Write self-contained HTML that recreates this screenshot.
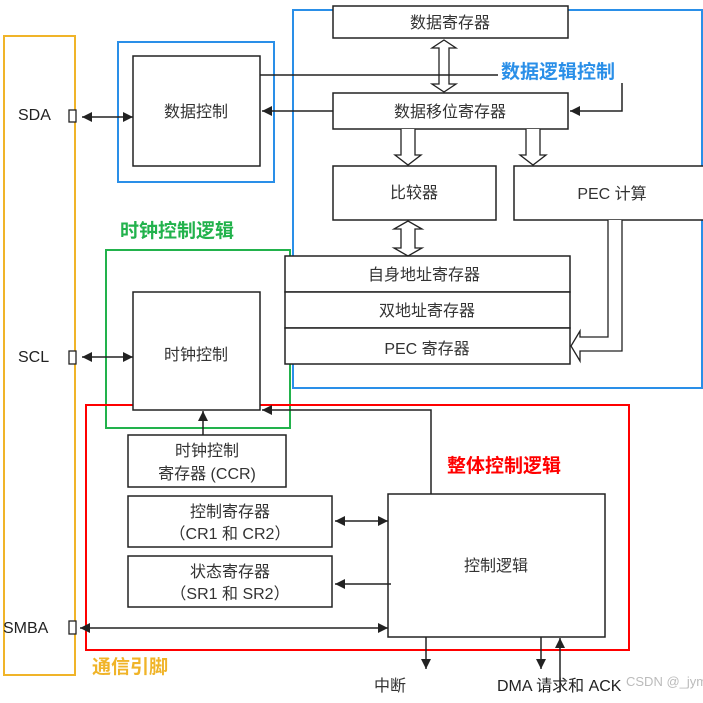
<!DOCTYPE html>
<html><head><meta charset="utf-8"><style>
body{margin:0;background:#fff}
svg{display:block}
text{font-family:"Liberation Sans","Noto Sans CJK SC",sans-serif;font-size:16px;fill:#333}
.b{fill:#fff;stroke:#222;stroke-width:1.5}
.l{stroke:#222;stroke-width:1.5;fill:none}
.h{fill:#fff;stroke:#222;stroke-width:1.3}
</style></head><body>
<svg width="703" height="703" viewBox="0 0 703 703">
<defs>
<marker id="a" viewBox="0 0 10 10" refX="10" refY="5" markerWidth="10" markerHeight="11" orient="auto-start-reverse" markerUnits="userSpaceOnUse"><path d="M0,0L10,5L0,10z" fill="#222"/></marker>
</defs>
<rect x="4" y="36" width="71" height="639" fill="none" stroke="#f0b429" stroke-width="2"/>
<rect x="118" y="42" width="156" height="140" fill="none" stroke="#2a8fe8" stroke-width="2"/>
<rect x="293" y="10" width="409" height="378" fill="none" stroke="#2a8fe8" stroke-width="2"/>
<rect x="106" y="250" width="184" height="178" fill="none" stroke="#22b24c" stroke-width="2"/>
<rect x="86" y="405" width="543" height="245" fill="none" stroke="#f00" stroke-width="2"/>

<rect class="b" x="133" y="56" width="127" height="110"/>
<text x="196" y="117" text-anchor="middle">数据控制</text>
<rect class="b" x="333" y="6" width="235" height="32"/>
<text x="450" y="28" text-anchor="middle">数据寄存器</text>
<rect class="b" x="333" y="93" width="235" height="36"/>
<text x="450" y="117" text-anchor="middle">数据移位寄存器</text>
<rect class="b" x="333" y="166" width="163" height="54"/>
<text x="414" y="198" text-anchor="middle">比较器</text>
<rect class="b" x="514" y="166" width="200" height="54"/>
<text x="612" y="199" text-anchor="middle">PEC 计算</text>
<rect class="b" x="285" y="256" width="285" height="36"/>
<text x="424" y="280" text-anchor="middle">自身地址寄存器</text>
<rect class="b" x="285" y="292" width="285" height="36"/>
<text x="427" y="316" text-anchor="middle">双地址寄存器</text>
<rect class="b" x="285" y="328" width="285" height="36"/>
<text x="427" y="354" text-anchor="middle">PEC 寄存器</text>

<path class="h" d="M439,48 L432,48 L444,40 L456,48 L449,48 L449,84 L456,84 L444,92 L432,84 L439,84 Z"/>
<path class="h" d="M401,129 L401,155 L395,155 L408,165 L421,155 L415,155 L415,129"/>
<path class="h" d="M526,129 L526,155 L520,155 L533,165 L546,155 L540,155 L540,129"/>
<path class="h" d="M401,229 L394,229 L408,221 L422,229 L415,229 L415,248 L422,248 L408,256 L394,248 L401,248 Z"/>
<path class="h" d="M608,220 L608,337 L580,337 L580,331 L571,346 L580,361 L580,351 L622,351 L622,220"/>

<path class="l" d="M260,75 L498,75"/>
<path class="l" d="M622,83 L622,111 L570,111" marker-end="url(#a)"/>
<path class="l" d="M333,111 L262,111" marker-end="url(#a)"/>
<text x="501" y="78" style="fill:#2a8fe8;font-weight:bold;font-size:19px">数据逻辑控制</text>

<rect x="69" y="110" width="7" height="12" fill="#fff" stroke="#222" stroke-width="1.3"/>
<rect x="69" y="351" width="7" height="13" fill="#fff" stroke="#222" stroke-width="1.3"/>
<rect x="69" y="621" width="7" height="13" fill="#fff" stroke="#222" stroke-width="1.3"/>
<text x="18" y="120" style="fill:#222">SDA</text>
<text x="18" y="362" style="fill:#222">SCL</text>
<text x="3" y="633" style="fill:#222">SMBA</text>
<path class="l" d="M82,117 L133,117" marker-start="url(#a)" marker-end="url(#a)"/>
<path class="l" d="M82,357 L133,357" marker-start="url(#a)" marker-end="url(#a)"/>

<text x="120" y="237" style="fill:#22b24c;font-weight:bold;font-size:19px">时钟控制逻辑</text>
<rect class="b" x="133" y="292" width="127" height="118"/>
<text x="196" y="360" text-anchor="middle">时钟控制</text>

<path class="l" d="M431,494 L431,410 L262,410" marker-end="url(#a)"/>
<path class="l" d="M203,435 L203,411" marker-end="url(#a)"/>

<rect class="b" x="128" y="435" width="158" height="52"/>
<text x="207" y="456" text-anchor="middle">时钟控制</text>
<text x="207" y="479" text-anchor="middle">寄存器 (CCR)</text>
<rect class="b" x="128" y="496" width="204" height="51"/>
<text x="230" y="517" text-anchor="middle">控制寄存器</text>
<text x="230" y="539" text-anchor="middle">（CR1 和 CR2）</text>
<rect class="b" x="128" y="556" width="204" height="51"/>
<text x="230" y="577" text-anchor="middle">状态寄存器</text>
<text x="230" y="599" text-anchor="middle">（SR1 和 SR2）</text>

<text x="447" y="472" style="fill:#f00;font-weight:bold;font-size:19px">整体控制逻辑</text>
<rect class="b" x="388" y="494" width="217" height="143"/>
<text x="496" y="571" text-anchor="middle">控制逻辑</text>

<path class="l" d="M335,521 L388,521" marker-start="url(#a)" marker-end="url(#a)"/>
<path class="l" d="M391,584 L335,584" marker-end="url(#a)"/>
<path class="l" d="M80,628 L388,628" marker-start="url(#a)" marker-end="url(#a)"/>
<path class="l" d="M426,637 L426,669" marker-end="url(#a)"/>
<path class="l" d="M541,637 L541,669" marker-end="url(#a)"/>
<path class="l" d="M560,692 L560,638" marker-end="url(#a)"/>
<text x="374" y="691">中断</text>
<text x="497" y="691" style="fill:#222">DMA 请求和 ACK</text>
<text x="626" y="686" style="fill:#bbb;font-size:13px">CSDN @_jym</text>
<text x="92" y="673" style="fill:#f0b429;font-weight:bold;font-size:19px">通信引脚</text>
</svg>
</body></html>
